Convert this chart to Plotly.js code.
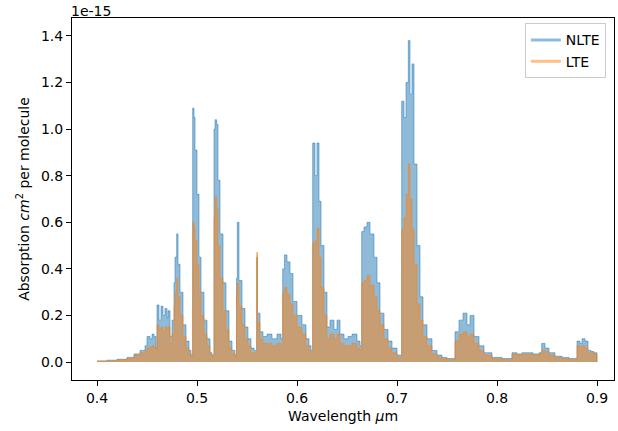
<!DOCTYPE html>
<html>
<head>
<meta charset="utf-8">
<script src="https://cdn.plot.ly/plotly-3.0.1.min.js"></script>
<style>body{margin:0;} #chart{width:618px;height:431px;}</style>
</head>
<body>
<div id="chart"></div>
<script>
// wavelength in micrometres, absorption in units of 1e-15 cm^2 per molecule
let wavelength = [0.400,0.410,0.420,0.430,0.437,0.443,0.448,0.450,0.453,0.455,0.457,0.459,
  0.460,0.462,0.464,0.466,0.468,0.470,0.471,0.473,0.475,0.477,0.478,0.4797,0.481,0.483,0.486,0.489,0.492,0.494,
  0.4957,0.497,0.498,0.500,0.502,0.504,0.507,0.510,0.513,0.515,
  0.517,0.518,0.5197,0.521,0.523,0.526,0.529,0.532,0.535,0.538,
  0.5395,0.5403,0.542,0.545,0.548,0.551,0.554,0.557,0.5597,0.5605,0.563,0.566,0.570,0.575,0.580,0.584,
  0.5857,0.5875,0.590,0.593,0.596,0.600,0.605,0.609,0.612,0.614,
  0.6157,0.618,0.620,0.622,0.624,0.627,0.630,0.633,0.637,0.640,0.643,0.647,0.651,0.655,0.660,0.663,
  0.6647,0.667,0.670,0.673,0.677,0.680,0.683,0.687,0.691,0.695,0.700,0.703,
  0.7047,0.707,0.709,0.7113,0.713,0.715,0.717,0.720,0.723,0.726,0.730,0.735,0.740,0.745,0.750,0.756,
  0.758,0.762,0.766,0.770,0.773,0.777,0.782,0.787,0.795,0.805,0.814,
  0.815,0.820,0.825,0.830,0.836,0.842,0.8447,0.848,0.852,0.858,0.865,0.872,0.879,
  0.880,0.883,0.885,0.888,0.891,0.894,0.897,0.900];
let nlte = [0.005,0.008,0.012,0.02,0.035,0.05,0.07,0.11,0.10,0.12,0.11,0.06,
  0.245,0.18,0.24,0.20,0.23,0.19,0.22,0.11,0.18,0.34,0.45,0.55,0.42,0.30,0.16,0.09,0.05,0.03,
  1.09,1.05,0.91,0.72,0.45,0.30,0.18,0.10,0.04,0.03,
  1.00,1.04,1.02,0.78,0.55,0.34,0.22,0.09,0.05,0.03,
  0.36,0.60,0.35,0.23,0.15,0.10,0.06,0.05,0.45,0.21,0.13,0.11,0.12,0.10,0.12,0.10,
  0.40,0.46,0.43,0.38,0.26,0.20,0.16,0.10,0.07,0.05,
  0.94,0.80,0.94,0.69,0.50,0.30,0.15,0.18,0.14,0.18,0.12,0.10,0.11,0.12,0.09,0.07,
  0.56,0.58,0.60,0.55,0.45,0.34,0.21,0.14,0.09,0.06,0.03,0.03,
  1.12,1.05,1.20,1.38,1.15,1.28,0.85,0.50,0.28,0.16,0.10,0.05,0.03,0.02,0.015,0.015,
  0.13,0.18,0.21,0.16,0.20,0.11,0.07,0.04,0.02,0.015,0.015,
  0.04,0.035,0.04,0.04,0.035,0.04,0.08,0.06,0.04,0.025,0.02,0.015,0.015,
  0.09,0.08,0.10,0.09,0.05,0.045,0.04,0.0];
let lte = [0.004,0.006,0.01,0.016,0.03,0.04,0.05,0.06,0.065,0.07,0.06,0.04,
  0.16,0.14,0.15,0.13,0.15,0.14,0.15,0.08,0.12,0.24,0.30,0.36,0.28,0.20,0.11,0.06,0.035,0.02,
  0.60,0.58,0.52,0.42,0.30,0.20,0.12,0.07,0.03,0.02,
  0.62,0.71,0.66,0.50,0.36,0.22,0.14,0.06,0.035,0.02,
  0.30,0.34,0.24,0.16,0.10,0.07,0.04,0.04,0.47,0.17,0.10,0.08,0.08,0.07,0.08,0.07,
  0.30,0.32,0.29,0.25,0.20,0.15,0.12,0.07,0.05,0.035,
  0.51,0.52,0.575,0.45,0.32,0.20,0.10,0.12,0.10,0.12,0.08,0.07,0.07,0.08,0.06,0.05,
  0.34,0.35,0.37,0.33,0.28,0.22,0.16,0.10,0.06,0.04,0.02,0.02,
  0.57,0.62,0.72,0.85,0.70,0.57,0.42,0.25,0.18,0.11,0.07,0.035,0.02,0.015,0.01,0.01,
  0.09,0.12,0.13,0.11,0.12,0.08,0.05,0.03,0.015,0.01,0.01,
  0.035,0.03,0.035,0.035,0.03,0.035,0.05,0.045,0.03,0.02,0.015,0.01,0.01,
  0.07,0.065,0.07,0.06,0.04,0.04,0.035,0.0];

let blue = 'rgba(31,119,180,0.5)';
let orange = 'rgba(255,127,14,0.5)';
let traces = [
  {x: wavelength, y: nlte, showlegend: false, mode: 'lines', line: {shape: 'hv', width: 1, color: blue},
   fill: 'tozeroy', fillcolor: blue},
  {x: wavelength, y: lte, showlegend: false, mode: 'lines', line: {shape: 'hv', width: 1, color: orange},
   fill: 'tozeroy', fillcolor: orange},
  // legend entries drawn as plain lines
  {x: [null], y: [null], name: 'NLTE', mode: 'lines', line: {width: 3, color: blue}},
  {x: [null], y: [null], name: 'LTE', mode: 'lines', line: {width: 3, color: orange}}
];

let font = {family: 'DejaVu Sans', size: 14, color: '#000'};
let layout = {
  width: 618, height: 431,
  margin: {l: 72, r: 4, t: 18, b: 51},
  font: font,
  plot_bgcolor: '#fff', paper_bgcolor: '#fff',
  showlegend: true,
  legend: {x: 0.985, y: 0.985, xanchor: 'right', yanchor: 'top', bordercolor: '#ccc', borderwidth: 1,
    bgcolor: 'rgba(255,255,255,0.8)', font: {family: 'DejaVu Sans', size: 14}},
  xaxis: {range: [0.375, 0.917], tickvals: [0.4,0.5,0.6,0.7,0.8,0.9], ticktext: ['0.4','0.5','0.6','0.7','0.8','0.9'],
    showgrid: false, zeroline: false, showline: true, mirror: true, linecolor: '#000', linewidth: 1,
    ticks: 'outside', ticklen: 5, tickcolor: '#000',
    title: {text: 'Wavelength <i>μ</i>m', font: font, standoff: 6}},
  yaxis: {range: [-0.077, 1.477], tickvals: [0,0.2,0.4,0.6,0.8,1.0,1.2,1.4], ticktext: ['0.0','0.2','0.4','0.6','0.8','1.0','1.2','1.4'],
    showgrid: false, zeroline: false, showline: true, mirror: true, linecolor: '#000', linewidth: 1,
    ticks: 'outside', ticklen: 5, tickcolor: '#000',
    title: {text: 'Absorption <i>cm</i><sup>2</sup> per molecule', font: font, standoff: 8}},
  annotations: [{text: '1e-15', xref: 'paper', yref: 'paper', x: 0, y: 1, xanchor: 'left', yanchor: 'bottom',
    showarrow: false, font: font, xshift: -3, yshift: -3}]
};

Plotly.newPlot('chart', traces, layout, {displayModeBar: false});
</script>
</body>
</html>
